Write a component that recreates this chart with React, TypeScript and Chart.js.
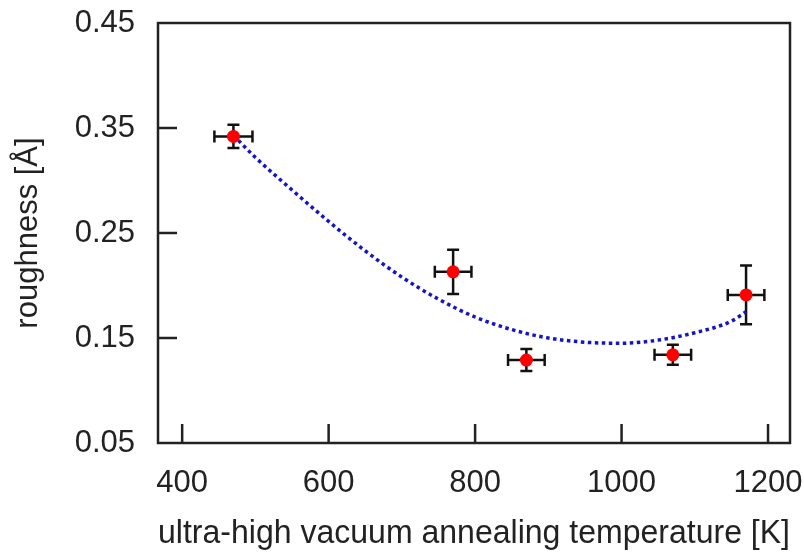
import React, { useEffect, useRef } from "react";
import { Chart, registerables } from "chart.js";
Chart.register(...registerables);

const temps = [470, 770, 870, 1070, 1170];
const roughness = [0.342, 0.213, 0.129, 0.134, 0.191];
const roughnessErr = [0.011, 0.021, 0.0105, 0.0095, 0.028];
const tempErr = [26, 25, 25, 25, 25];
const fitTemps = [470, 500, 550, 600, 650, 700, 750, 800, 850, 900, 950, 1000, 1050, 1100, 1150, 1170];
const fitRoughness = [0.343, 0.322, 0.291, 0.261, 0.233, 0.208, 0.187, 0.17, 0.158, 0.15, 0.146, 0.145, 0.148, 0.155, 0.166, 0.175];
const xTicks = [400, 600, 800, 1000, 1200];
const yTicks = [0.05, 0.15, 0.25, 0.35, 0.45];
const xTitle = "ultra-high vacuum annealing temperature [K]";
const yTitle = "roughness [Å]";

const FONT = "Liberation Sans, Arial, sans-serif";

export default function App() {
  const ref = useRef<HTMLCanvasElement | null>(null);
  useEffect(() => {
    document.body.style.margin = "0";
    const canvas = ref.current!;
    const framePlugin = {
      id: "frame",
      beforeDatasetsDraw(chart: any) {
        const ctx = chart.ctx;
        const xs = chart.scales.x;
        const ys = chart.scales.y;
        ctx.save();
        ctx.strokeStyle = "#111";
        ctx.lineWidth = 2.5;
        for (let i = 0; i < temps.length; i++) {
          const px = xs.getPixelForValue(temps[i]);
          const py = ys.getPixelForValue(roughness[i]);
          const x1 = xs.getPixelForValue(temps[i] - tempErr[i]);
          const x2 = xs.getPixelForValue(temps[i] + tempErr[i]);
          const y1 = ys.getPixelForValue(roughness[i] - roughnessErr[i]);
          const y2 = ys.getPixelForValue(roughness[i] + roughnessErr[i]);
          const c = 6;
          ctx.beginPath();
          ctx.moveTo(x1, py); ctx.lineTo(x2, py);
          ctx.moveTo(x1, py - c); ctx.lineTo(x1, py + c);
          ctx.moveTo(x2, py - c); ctx.lineTo(x2, py + c);
          ctx.moveTo(px, y1); ctx.lineTo(px, y2);
          ctx.moveTo(px - c, y1); ctx.lineTo(px + c, y1);
          ctx.moveTo(px - c, y2); ctx.lineTo(px + c, y2);
          ctx.stroke();
        }
        ctx.restore();
      },
      afterDraw(chart: any) {
        const ctx = chart.ctx;
        const a = chart.chartArea;
        const xs = chart.scales.x;
        const ys = chart.scales.y;
        ctx.save();
        ctx.strokeStyle = "#222";
        ctx.lineWidth = 2.5;
        ctx.strokeRect(a.left, a.top, a.right - a.left, a.bottom - a.top);
        ctx.beginPath();
        for (const t of xTicks) {
          const px = xs.getPixelForValue(t);
          ctx.moveTo(px, a.bottom);
          ctx.lineTo(px, a.bottom - 19);
        }
        for (const t of yTicks) {
          if (t <= ys.min || t >= ys.max) continue;
          const py = ys.getPixelForValue(t);
          ctx.moveTo(a.left, py);
          ctx.lineTo(a.left + 19, py);
        }
        ctx.stroke();
        ctx.restore();
      },
    };
    const chart = new Chart(canvas, {
      type: "scatter",
      data: {
        datasets: [
          {
            label: "data",
            data: temps.map((t, i) => ({ x: t, y: roughness[i] })),
            backgroundColor: "#ff0000",
            borderColor: "#ff0000",
            pointRadius: 6.5,
            pointBorderWidth: 0,
            showLine: false,
          },
          {
            label: "fit",
            data: fitTemps.map((t, i) => ({ x: t, y: fitRoughness[i] })),
            showLine: true,
            borderColor: "#1414c8",
            borderWidth: 3.5,
            borderDash: [3.5, 3.5],
            pointRadius: 0,
            cubicInterpolationMode: "monotone",
          },
        ],
      },
      options: {
        animation: false,
        responsive: false,
        maintainAspectRatio: false,
        layout: { padding: { left: 0, right: 14, top: 23, bottom: 0 } },
        plugins: { legend: { display: false }, tooltip: { enabled: false } },
        scales: {
          x: {
            type: "linear",
            min: 367,
            max: 1230,
            afterBuildTicks: (s: any) => { s.ticks = xTicks.map((v) => ({ value: v })); },
            afterFit: (s: any) => { s.height = 111; s.paddingLeft = 0; s.paddingRight = 0; },
            grid: { display: false, drawTicks: false },
            border: { display: false },
            ticks: { color: "#222", font: { family: FONT, size: 31 }, padding: 22, callback: (v: any) => String(v) },
            title: { display: true, text: xTitle, color: "#222", font: { family: FONT, size: 32.5 }, padding: 0 },
          },
          y: {
            type: "linear",
            min: 0.05,
            max: 0.45,
            afterBuildTicks: (s: any) => { s.ticks = yTicks.map((v) => ({ value: v })); },
            afterFit: (s: any) => { s.width = 158; s.paddingTop = 0; s.paddingBottom = 0; },
            grid: { display: false, drawTicks: false },
            border: { display: false },
            ticks: { color: "#222", font: { family: FONT, size: 31 }, padding: 23, callback: (v: any) => Number(v).toFixed(2) },
            title: { display: true, text: yTitle, color: "#222", font: { family: FONT, size: 31 }, padding: 10 },
          },
        },
      },
      plugins: [framePlugin],
    });
    return () => chart.destroy();
  }, []);
  return (
    <div style={{ position: "absolute", left: 0, top: 0, width: 804, height: 554 }}>
      <canvas ref={ref} width={804} height={554} style={{ width: 804, height: 554 }} />
    </div>
  );
}
